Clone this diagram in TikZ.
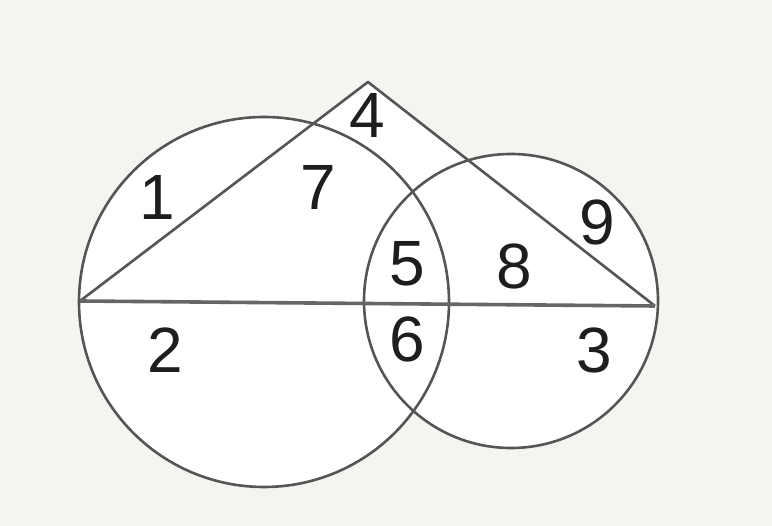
\documentclass[tikz,border=0pt]{standalone}
\usepackage{fontspec}
\setmainfont{Liberation Sans}
\definecolor{bgc}{HTML}{F5F4F0}
\definecolor{linec}{HTML}{555555}
\definecolor{txtc}{HTML}{1E1E1E}
\begin{document}
\begin{tikzpicture}[x=1pt,y=-1pt,
  outline/.style={draw=linec,line width=2.6pt},
  lbl/.style={text=txtc,inner sep=0pt,font=\fontsize{64}{64}\selectfont}]
\useasboundingbox (0,0) rectangle (772,526);
\fill[bgc] (0,0) rectangle (772,526);
% named points
\coordinate (cL) at (264,302);
\coordinate (cR) at (511,301);
\coordinate (tL) at (80,301);
\coordinate (tR) at (655,306);
\coordinate (tA) at (368,82);
% white fills
\fill[white] (cL) circle[radius=185pt];
\fill[white] (cR) circle[radius=147pt];
\fill[white] (tL) -- (tA) -- (tR) -- cycle;
% outlines
\draw[outline] (cL) circle[radius=185pt];
\draw[outline] (cR) circle[radius=147pt];
\draw[outline,line join=round] (tL) -- (tA) -- (tR);
\draw[draw=linec!90,line width=3.6pt] (tL) -- (tR);
% labels
\node[lbl] (n1) at (157,197) {1};
\node[lbl] (n2) at (165,350) {2};
\node[lbl] (n3) at (594,350) {3};
\node[lbl] (n4) at (367,115) {4};
\node[lbl] (n5) at (407,264) {5};
\node[lbl] (n6) at (407,339) {6};
\node[lbl] (n7) at (318,187) {7};
\node[lbl] (n8) at (514,266) {8};
\node[lbl] (n9) at (597,222) {9};
\end{tikzpicture}
\end{document}
